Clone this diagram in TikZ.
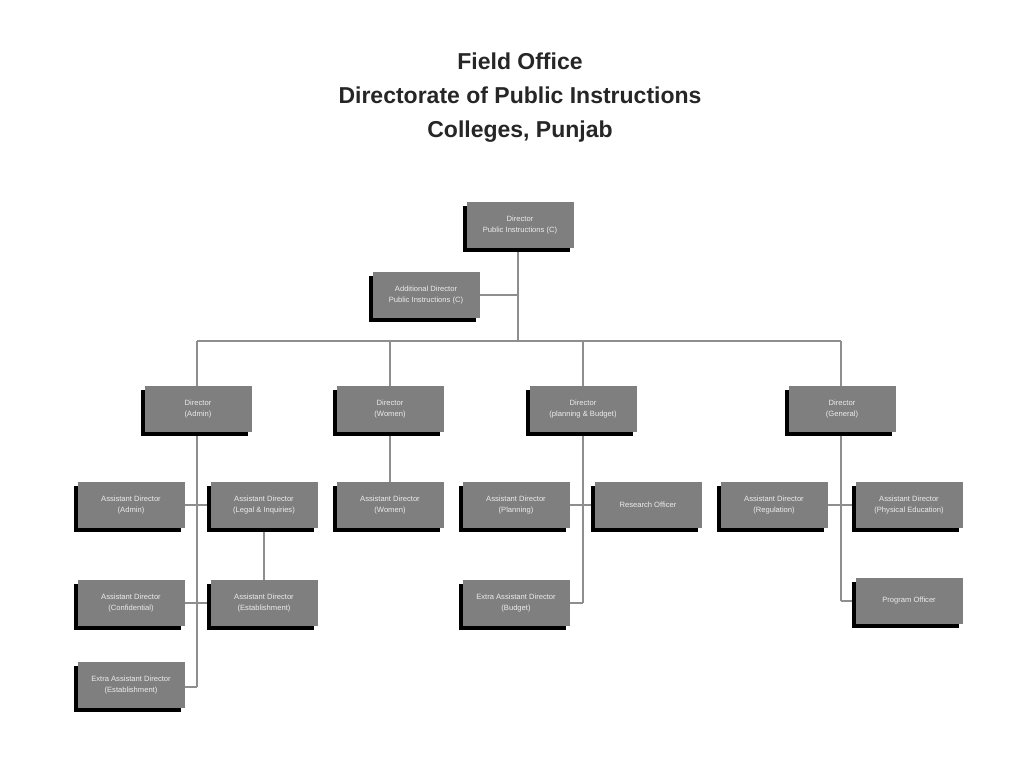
\documentclass[tikz,border=0pt]{standalone}
\usepackage{fontspec}
\setmainfont{Liberation Sans}
\usetikzlibrary{shadows}
\definecolor{boxg}{HTML}{7F7F7F}
\definecolor{lineg}{HTML}{8E8E8E}
\definecolor{txtg}{HTML}{ECECEC}
\begin{document}
\begin{tikzpicture}[x=1pt,y=-1pt,
  ob/.style={fill=boxg,minimum width=107pt,minimum height=46pt,inner sep=1pt,align=center,
    font=\fontsize{7.6}{10.5}\selectfont,text=txtg,
    drop shadow={shadow xshift=-3.5pt,shadow yshift=-3.5pt,fill=black,opacity=1}},
  ln/.style={draw=lineg,line width=1.4pt}]
\useasboundingbox[fill=white] (0,0) rectangle (1024,768);
\node[font=\bfseries\fontsize{23}{34}\selectfont,align=center,text=black!85] (title) at (520,98)
  {Field Office\\Directorate of Public Instructions\\Colleges, Punjab};
% lines first
\coordinate (top) at (518,225);
\coordinate (bus) at (518,341);
\coordinate (busL) at (197,341);
\coordinate (busR) at (841,341);
\coordinate (busW) at (390,341);
\coordinate (busP) at (583,341);
\coordinate (addj) at (518,295);
\coordinate (aend) at (197,687);
\coordinate (pend) at (583,603);
\coordinate (gend) at (841,601);
\coordinate (a1) at (197,505);
\coordinate (a2) at (197,603);
\coordinate (p1) at (583,505);
\coordinate (g1) at (841,505);
\draw[ln] (top) -- (bus);
\draw[ln] (busL) -- (busR);
\draw[ln] (busL) -- (aend);
\draw[ln] (busW) -- (390,505);
\draw[ln] (busP) -- (pend);
\draw[ln] (busR) -- (gend);
\draw[ln] (426,295) -- (addj);
\draw[ln] (131,505) -- (264,505);
\draw[ln] (131,603) -- (264,603);
\draw[ln] (aend) -- (131,687);
\draw[ln] (264,505) -- (264,603);
\draw[ln] (516,505) -- (648,505);
\draw[ln] (pend) -- (516,603);
\draw[ln] (774,505) -- (909,505);
\draw[ln] (gend) -- (909,601);
% boxes
\node[ob] (dpi) at (520,225) {Director\\Public Instructions (C)};
\node[ob] (adpi) at (426,295) {Additional Director\\Public Instructions (C)};
\node[ob] (da) at (198,409) {Director\\(Admin)};
\node[ob] (dw) at (390,409) {Director\\(Women)};
\node[ob] (dp) at (583,409) {Director\\(planning \& Budget)};
\node[ob] (dg) at (842,409) {Director\\(General)};
\node[ob] (aa) at (131,505) {Assistant Director\\(Admin)};
\node[ob] (al) at (264,505) {Assistant Director\\(Legal \& Inquiries)};
\node[ob] (aw) at (390,505) {Assistant Director\\(Women)};
\node[ob] (ap) at (516,505) {Assistant Director\\(Planning)};
\node[ob] (ro) at (648,505) {Research Officer};
\node[ob] (ar) at (774,505) {Assistant Director\\(Regulation)};
\node[ob] (ape) at (909,505) {Assistant Director\\(Physical Education)};
\node[ob] (ac) at (131,603) {Assistant Director\\(Confidential)};
\node[ob] (ae) at (264,603) {Assistant Director\\(Establishment)};
\node[ob] (eb) at (516,603) {Extra Assistant Director\\(Budget)};
\node[ob] (po) at (909,601) {Program Officer};
\node[ob] (ee) at (131,685) {Extra Assistant Director\\(Establishment)};
\end{tikzpicture}
\end{document}
